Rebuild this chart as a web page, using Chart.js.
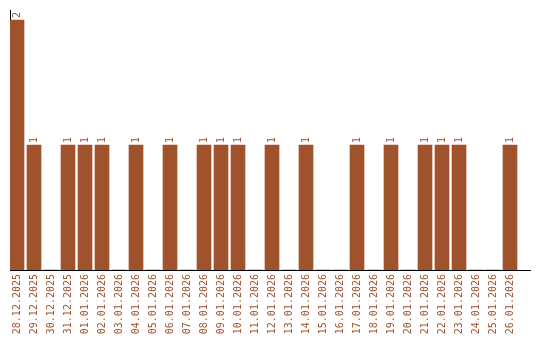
<!DOCTYPE html>
<html lang="en">
<head>
    <meta charset="UTF-8">
    <title>Daily count</title>
    <script src="https://cdn.jsdelivr.net/npm/chart.js"></script>
    <style>
        body {
            margin: 0;
            padding: 0;
            background: #fff;
        }
        canvas {
            display: block;
        }
    </style>
</head>
<body>
    <canvas id="dayChart" width="540" height="340"></canvas>

    <script>
        // Days shown on the x axis
        const days = [
            '28.12.2025', '29.12.2025', '30.12.2025', '31.12.2025',
            '01.01.2026', '02.01.2026', '03.01.2026', '04.01.2026', '05.01.2026',
            '06.01.2026', '07.01.2026', '08.01.2026', '09.01.2026', '10.01.2026',
            '11.01.2026', '12.01.2026', '13.01.2026', '14.01.2026', '15.01.2026',
            '16.01.2026', '17.01.2026', '18.01.2026', '19.01.2026', '20.01.2026',
            '21.01.2026', '22.01.2026', '23.01.2026', '24.01.2026', '25.01.2026',
            '26.01.2026'
        ];
        // Count per day
        const counts = [2, 1, 0, 1, 1, 1, 0, 1, 0, 1, 0, 1, 1, 1, 0, 1, 0, 1, 0, 0, 1, 0, 1, 0, 1, 1, 1, 0, 0, 1];

        const barColor = '#a0522d';
        const monoFont = { family: "'DejaVu Sans Mono', monospace", size: 10 };

        // value labels, rotated, above each bar
        const valueLabels = {
            id: 'valueLabels',
            afterDatasetsDraw(chart) {
                const ctx = chart.ctx;
                const meta = chart.getDatasetMeta(0);
                ctx.save();
                ctx.fillStyle = barColor;
                ctx.font = "10px 'DejaVu Sans Mono', monospace";
                ctx.textAlign = 'left';
                ctx.textBaseline = 'middle';
                meta.data.forEach((bar, i) => {
                    if (!counts[i]) return;
                    ctx.save();
                    ctx.translate(bar.x, bar.y - 2);
                    ctx.rotate(-Math.PI / 2);
                    ctx.fillText(String(counts[i]), 0, 0);
                    ctx.restore();
                });
                ctx.restore();
            }
        };

        new Chart(document.getElementById('dayChart').getContext('2d'), {
            type: 'bar',
            data: {
                datasets: [{
                    data: counts.map((c, i) => ({ x: i, y: c })),
                    backgroundColor: barColor,
                    borderWidth: 0,
                    barThickness: 14
                }]
            },
            options: {
                responsive: false,
                animation: false,
                layout: { padding: { left: 10, top: 10, right: 10, bottom: 0 } },
                plugins: {
                    legend: { display: false },
                    tooltip: { enabled: false }
                },
                scales: {
                    x: {
                        type: 'linear',
                        offset: false,
                        min: -0.412,
                        max: 30.176,
                        grid: { display: false, drawTicks: false },
                        border: { display: true, color: '#000', width: 1 },
                        afterBuildTicks: (scale) => {
                            scale.ticks = days.map((d, i) => ({ value: i }));
                        },
                        afterFit: (scale) => {
                            scale.height = 70;
                            scale.paddingLeft = 0;
                            scale.paddingRight = 0;
                        },
                        ticks: {
                            autoSkip: false,
                            minRotation: 90,
                            maxRotation: 90,
                            padding: 4,
                            color: barColor,
                            font: monoFont,
                            callback: (v) => days[v]
                        }
                    },
                    y: {
                        min: 0,
                        max: 2.08,
                        grid: { display: false, drawTicks: false },
                        border: { display: true, color: '#000', width: 1 },
                        ticks: { display: false },
                        afterFit: (scale) => {
                            scale.width = 0;
                            scale.paddingTop = 0;
                            scale.paddingBottom = 0;
                        }
                    }
                }
            },
            plugins: [valueLabels]
        });
    </script>
</body>
</html>
